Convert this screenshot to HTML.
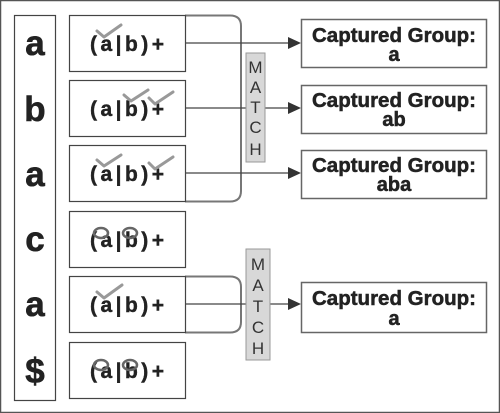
<!DOCTYPE html>
<html><head><meta charset="utf-8"><style>
html,body{margin:0;padding:0;background:#fff;width:500px;height:413px;overflow:hidden}
svg{display:block}
text{font-family:"Liberation Sans",sans-serif}
</style></head><body>
<svg width="500" height="413" viewBox="0 0 500 413">
<rect x="0.5" y="0.5" width="499" height="412" fill="#fff" stroke="#555" stroke-width="1.5"/>
<rect x="14.5" y="15.5" width="41" height="385" fill="#fff" stroke="#444" stroke-width="1.2"/>
<g font-weight="bold" font-size="35" fill="#222" text-anchor="middle" stroke="#222" stroke-width="0.6">
<text x="35" y="55">a</text><text x="35" y="121">b</text><text x="35" y="186">a</text>
<text x="35" y="251">c</text><text x="35" y="316">a</text><text x="35" y="383">$</text>
</g>
<!-- brackets -->
<path d="M185 15.5 H230 Q241 15.5 241 26 V191 Q241 201.5 230 201.5 H185" fill="none" stroke="#777" stroke-width="2"/>
<path d="M185 276.5 H230 Q241 276.5 241 287 V322 Q241 332.5 230 332.5 H185" fill="none" stroke="#777" stroke-width="2"/>
<!-- rows -->
<g fill="#fff" stroke="#444" stroke-width="1.2">
<rect x="69.5" y="15.5" width="116" height="56"/>
<rect x="69.5" y="80.5" width="116" height="56"/>
<rect x="69.5" y="145.5" width="116" height="56"/>
<rect x="69.5" y="211.5" width="116" height="56"/>
<rect x="69.5" y="276.5" width="116" height="56"/>
<rect x="69.5" y="342.5" width="116" height="56"/>
</g>
<g font-weight="bold" font-size="21" fill="#222" stroke="#222" stroke-width="0.4">
<text x="90" y="51" textLength="74" lengthAdjust="spacing">(a|b)+</text>
<text x="90" y="116" textLength="74" lengthAdjust="spacing">(a|b)+</text>
<text x="90" y="181" textLength="74" lengthAdjust="spacing">(a|b)+</text>
<text x="90" y="247" textLength="74" lengthAdjust="spacing">(a|b)+</text>
<text x="90" y="312" textLength="74" lengthAdjust="spacing">(a|b)+</text>
<text x="90" y="378" textLength="74" lengthAdjust="spacing">(a|b)+</text>
</g>
<!-- checks -->
<g fill="none" stroke="#999" stroke-width="3" stroke-linecap="round" stroke-linejoin="round">
<path d="M97 31 L104 37 L121 25"/>
<path d="M124 95 L131 101 L148 90"/><path d="M149 98 L155 104 L173 92"/>
<path d="M97 160 L104 166 L121 155"/><path d="M149 163 L155 169 L173 157"/>
<path d="M97 292 L104 298 L122 285"/>
</g>
<g fill="none" stroke="#666" stroke-width="2.5">
<ellipse cx="101" cy="233" rx="7" ry="5"/><ellipse cx="130" cy="233" rx="7" ry="5"/>
<ellipse cx="101" cy="365" rx="7" ry="5"/><ellipse cx="130" cy="365" rx="7" ry="5"/>
</g>
<!-- arrows -->
<g stroke="#444" stroke-width="1.3">
<line x1="185" y1="43" x2="290" y2="43"/><line x1="185" y1="108" x2="290" y2="108"/>
<line x1="185" y1="173" x2="290" y2="173"/><line x1="185" y1="304" x2="290" y2="304"/>
</g>
<g fill="#333">
<path d="M288 37 L301 43 L288 49Z"/><path d="M288 102 L301 108 L288 114Z"/>
<path d="M288 167 L301 173 L288 179Z"/><path d="M288 298 L301 304 L288 310Z"/>
</g>
<!-- MATCH labels -->
<rect x="246" y="53" width="19" height="109" fill="#d8d8d8" stroke="#999"/>
<rect x="246" y="249" width="24" height="111" fill="#d8d8d8" stroke="#999"/>
<g font-size="17" fill="#333" text-anchor="middle">
<text x="255.5" y="73">M</text><text x="255.5" y="93">A</text><text x="255.5" y="113">T</text><text x="255.5" y="133">C</text><text x="255.5" y="155">H</text>
<text x="258" y="270">M</text><text x="258" y="291">A</text><text x="258" y="312">T</text><text x="258" y="333">C</text><text x="258" y="354">H</text>
</g>
<!-- captured -->
<g fill="#fff" stroke="#666" stroke-width="1.5">
<rect x="301.5" y="19.5" width="185" height="48"/>
<rect x="301.5" y="85.5" width="185" height="48"/>
<rect x="301.5" y="150.5" width="185" height="48"/>
<rect x="301.5" y="282.5" width="185" height="50"/>
</g>
<g font-weight="bold" font-size="20" fill="#222" stroke="#222" stroke-width="0.5">
<text x="312" y="42" textLength="164" lengthAdjust="spacingAndGlyphs">Captured Group:</text>
<text x="312" y="107" textLength="164" lengthAdjust="spacingAndGlyphs">Captured Group:</text>
<text x="312" y="172" textLength="164" lengthAdjust="spacingAndGlyphs">Captured Group:</text>
<text x="312" y="305" textLength="164" lengthAdjust="spacingAndGlyphs">Captured Group:</text>
</g>
<g font-weight="bold" font-size="20" fill="#222" stroke="#222" stroke-width="0.5" text-anchor="middle">
<text x="394" y="61">a</text><text x="394" y="126">ab</text><text x="394" y="191">aba</text><text x="394" y="325">a</text>
</g>
</svg>
</body></html>
